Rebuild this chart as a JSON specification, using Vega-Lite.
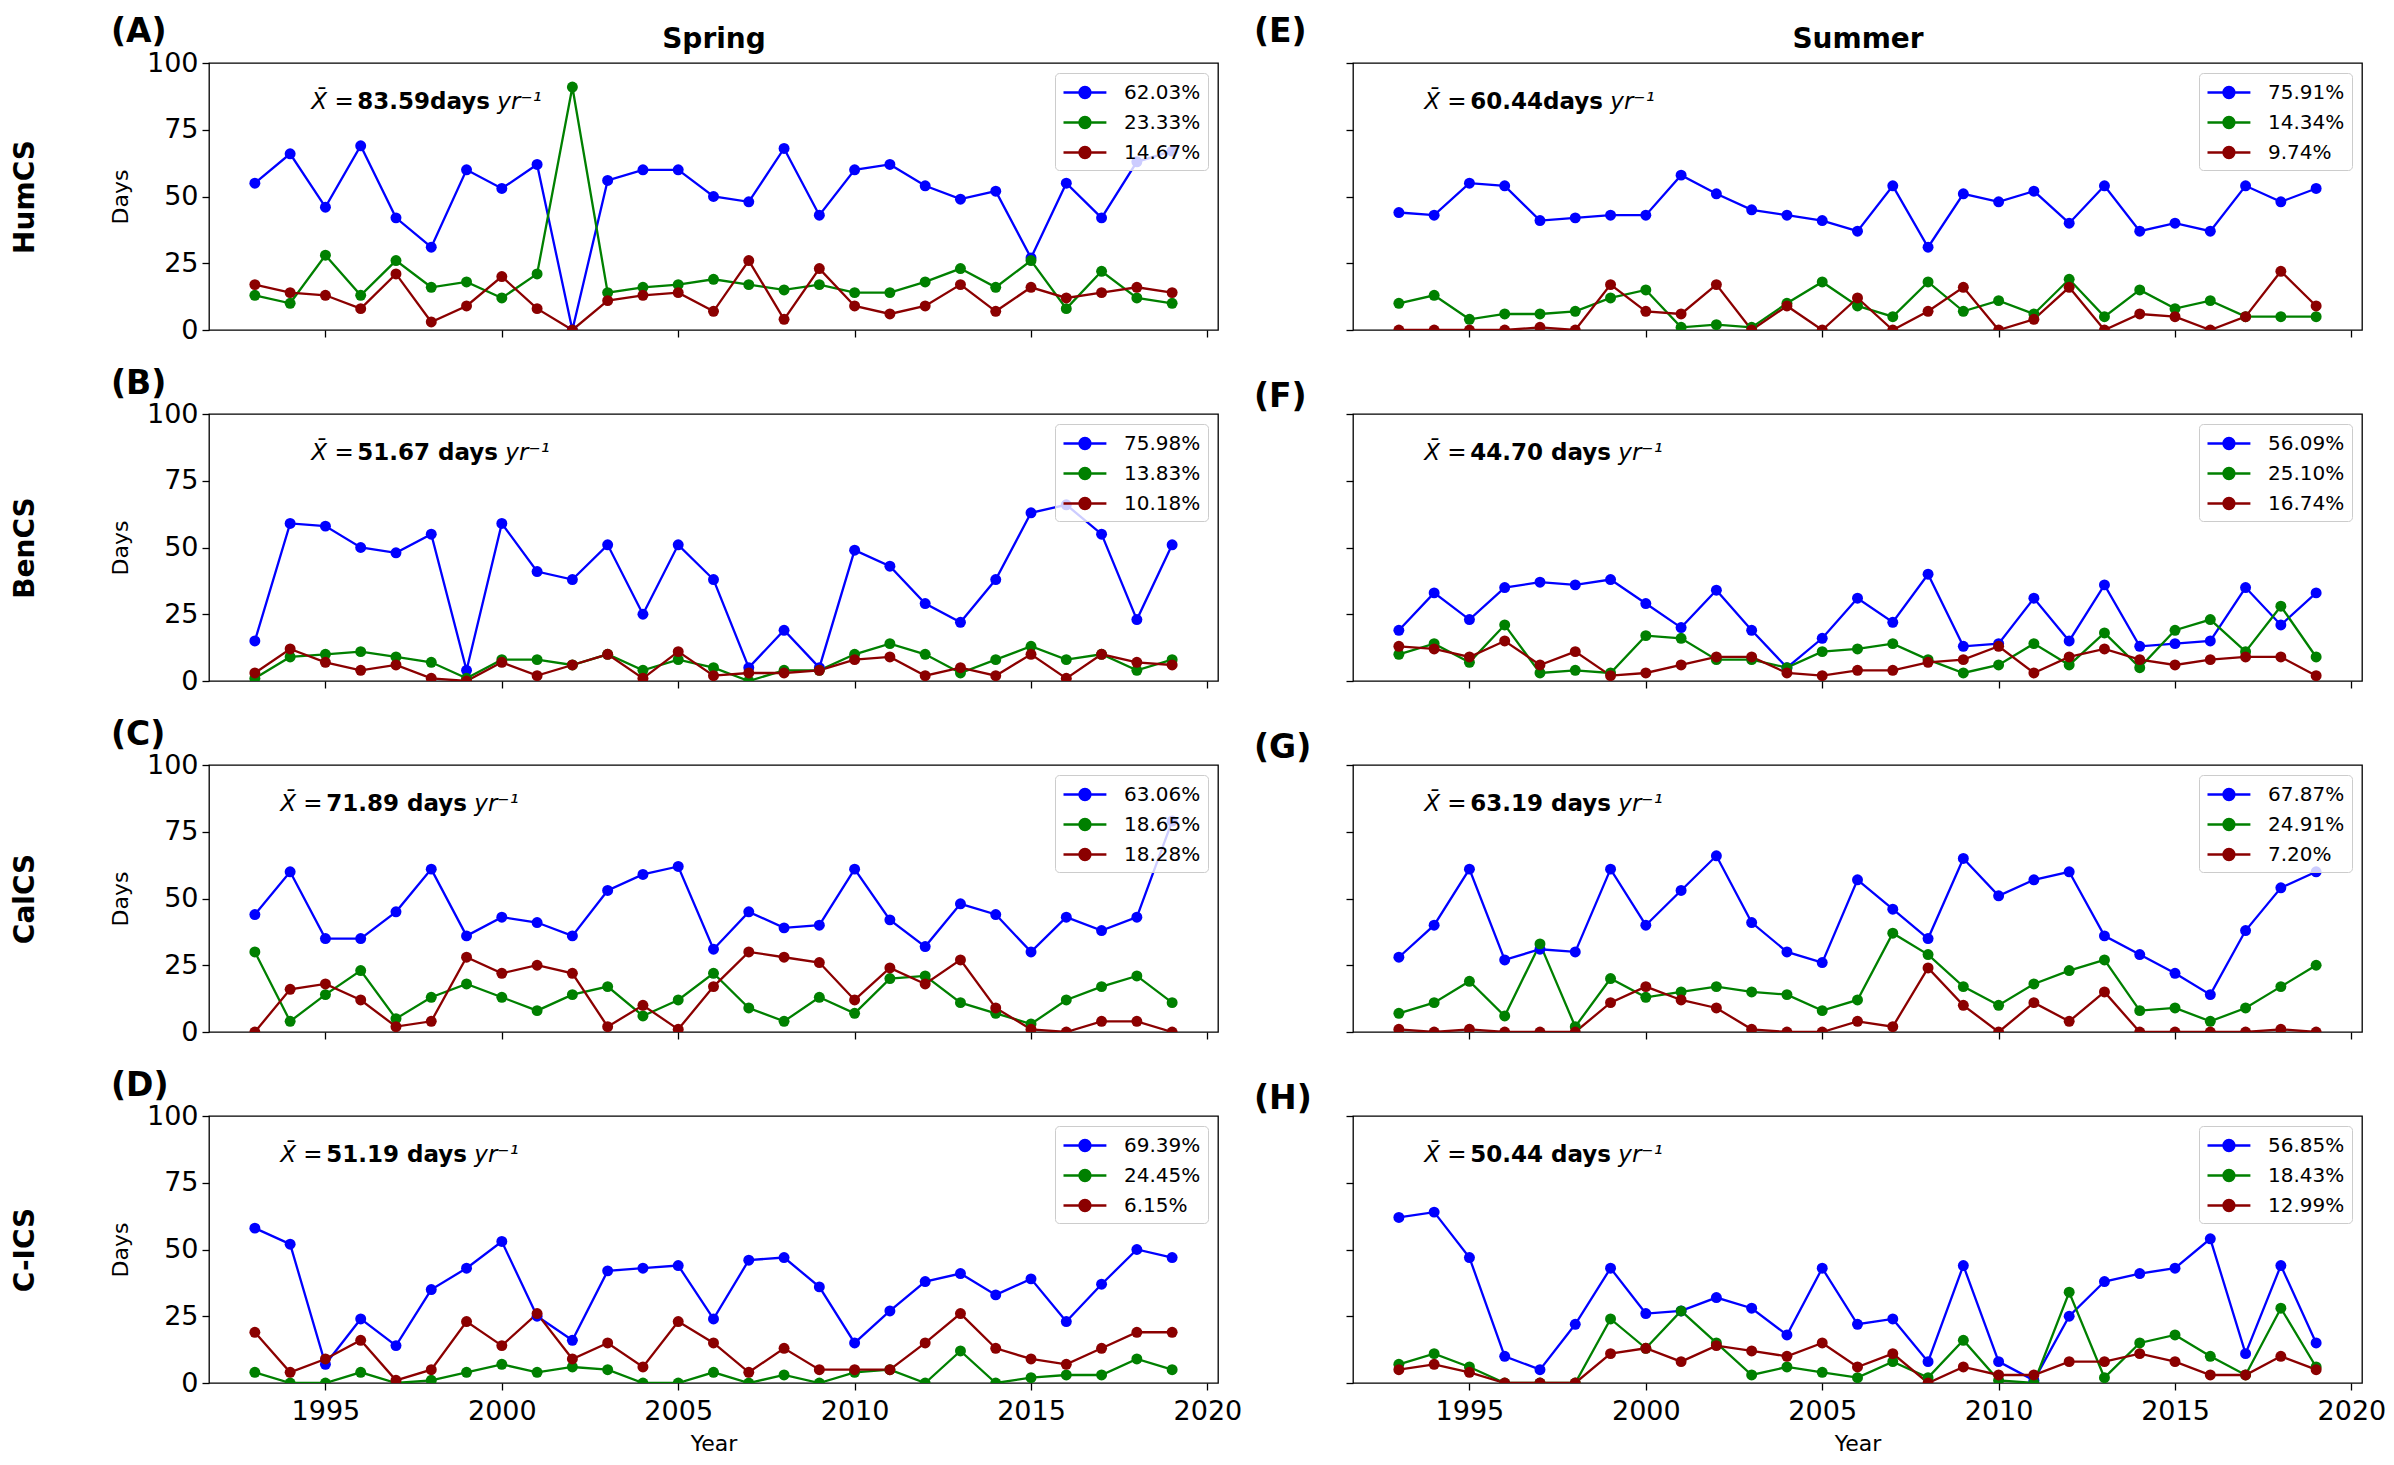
{
"$schema": "https://vega.github.io/schema/vega-lite/v6.json",
"padding": {"left": 10, "top": 15, "right": 5, "bottom": 5},
"config": {
  "font": "DejaVu Sans",
  "view": {"stroke": "#000000", "strokeWidth": 1.3},
  "axis": {"domain": false, "grid": false, "tickColor": "#000000", "tickSize": 7, "tickWidth": 1.3, "labelFontSize": 27, "labelColor": "#000000", "labelPadding": 4, "titleFontSize": 22, "titleFontWeight": "normal", "titleColor": "#000000"},
  "axisX": {"labelPadding": 8},
  "legend": {"orient": "top-right", "offset": 10, "padding": 7, "fillColor": "rgba(255,255,255,0.8)", "strokeColor": "#cccccc", "cornerRadius": 4, "labelFontSize": 20, "labelColor": "#000000", "symbolType": "M-1,0L2.9,0M0.45,0A0.5,0.5,0,1,1,1.45,0A0.5,0.5,0,1,1,0.45,0Z", "symbolSize": 484, "symbolStrokeWidth": 2.3, "symbolOpacity": 1, "labelOffset": 37, "rowPadding": 7},
  "title": {"color": "#000000"}
},
"datasets": {
"notes": [{"p":"A","m":"83.59days"},{"p":"B","m":"51.67 days"},{"p":"C","m":"71.89 days"},{"p":"D","m":"51.19 days"},{"p":"E","m":"60.44days"},{"p":"F","m":"44.70 days"},{"p":"G","m":"63.19 days"},{"p":"H","m":"50.44 days"}],
"d": [
{"p":"A","s":"62.03%","x":1993,"v":55},{"p":"A","s":"62.03%","x":1994,"v":66},{"p":"A","s":"62.03%","x":1995,"v":46},{"p":"A","s":"62.03%","x":1996,"v":69},{"p":"A","s":"62.03%","x":1997,"v":42},{"p":"A","s":"62.03%","x":1998,"v":31},{"p":"A","s":"62.03%","x":1999,"v":60},{"p":"A","s":"62.03%","x":2000,"v":53},{"p":"A","s":"62.03%","x":2001,"v":62},{"p":"A","s":"62.03%","x":2002,"v":0},{"p":"A","s":"62.03%","x":2003,"v":56},{"p":"A","s":"62.03%","x":2004,"v":60},{"p":"A","s":"62.03%","x":2005,"v":60},{"p":"A","s":"62.03%","x":2006,"v":50},{"p":"A","s":"62.03%","x":2007,"v":48},{"p":"A","s":"62.03%","x":2008,"v":68},{"p":"A","s":"62.03%","x":2009,"v":43},{"p":"A","s":"62.03%","x":2010,"v":60},{"p":"A","s":"62.03%","x":2011,"v":62},{"p":"A","s":"62.03%","x":2012,"v":54},{"p":"A","s":"62.03%","x":2013,"v":49},{"p":"A","s":"62.03%","x":2014,"v":52},{"p":"A","s":"62.03%","x":2015,"v":27},{"p":"A","s":"62.03%","x":2016,"v":55},{"p":"A","s":"62.03%","x":2017,"v":42},{"p":"A","s":"62.03%","x":2018,"v":63},{"p":"A","s":"62.03%","x":2019,"v":67},
{"p":"A","s":"23.33%","x":1993,"v":13},{"p":"A","s":"23.33%","x":1994,"v":10},{"p":"A","s":"23.33%","x":1995,"v":28},{"p":"A","s":"23.33%","x":1996,"v":13},{"p":"A","s":"23.33%","x":1997,"v":26},{"p":"A","s":"23.33%","x":1998,"v":16},{"p":"A","s":"23.33%","x":1999,"v":18},{"p":"A","s":"23.33%","x":2000,"v":12},{"p":"A","s":"23.33%","x":2001,"v":21},{"p":"A","s":"23.33%","x":2002,"v":91},{"p":"A","s":"23.33%","x":2003,"v":14},{"p":"A","s":"23.33%","x":2004,"v":16},{"p":"A","s":"23.33%","x":2005,"v":17},{"p":"A","s":"23.33%","x":2006,"v":19},{"p":"A","s":"23.33%","x":2007,"v":17},{"p":"A","s":"23.33%","x":2008,"v":15},{"p":"A","s":"23.33%","x":2009,"v":17},{"p":"A","s":"23.33%","x":2010,"v":14},{"p":"A","s":"23.33%","x":2011,"v":14},{"p":"A","s":"23.33%","x":2012,"v":18},{"p":"A","s":"23.33%","x":2013,"v":23},{"p":"A","s":"23.33%","x":2014,"v":16},{"p":"A","s":"23.33%","x":2015,"v":26},{"p":"A","s":"23.33%","x":2016,"v":8},{"p":"A","s":"23.33%","x":2017,"v":22},{"p":"A","s":"23.33%","x":2018,"v":12},{"p":"A","s":"23.33%","x":2019,"v":10},
{"p":"A","s":"14.67%","x":1993,"v":17},{"p":"A","s":"14.67%","x":1994,"v":14},{"p":"A","s":"14.67%","x":1995,"v":13},{"p":"A","s":"14.67%","x":1996,"v":8},{"p":"A","s":"14.67%","x":1997,"v":21},{"p":"A","s":"14.67%","x":1998,"v":3},{"p":"A","s":"14.67%","x":1999,"v":9},{"p":"A","s":"14.67%","x":2000,"v":20},{"p":"A","s":"14.67%","x":2001,"v":8},{"p":"A","s":"14.67%","x":2002,"v":0},{"p":"A","s":"14.67%","x":2003,"v":11},{"p":"A","s":"14.67%","x":2004,"v":13},{"p":"A","s":"14.67%","x":2005,"v":14},{"p":"A","s":"14.67%","x":2006,"v":7},{"p":"A","s":"14.67%","x":2007,"v":26},{"p":"A","s":"14.67%","x":2008,"v":4},{"p":"A","s":"14.67%","x":2009,"v":23},{"p":"A","s":"14.67%","x":2010,"v":9},{"p":"A","s":"14.67%","x":2011,"v":6},{"p":"A","s":"14.67%","x":2012,"v":9},{"p":"A","s":"14.67%","x":2013,"v":17},{"p":"A","s":"14.67%","x":2014,"v":7},{"p":"A","s":"14.67%","x":2015,"v":16},{"p":"A","s":"14.67%","x":2016,"v":12},{"p":"A","s":"14.67%","x":2017,"v":14},{"p":"A","s":"14.67%","x":2018,"v":16},{"p":"A","s":"14.67%","x":2019,"v":14},
{"p":"B","s":"75.98%","x":1993,"v":15},{"p":"B","s":"75.98%","x":1994,"v":59},{"p":"B","s":"75.98%","x":1995,"v":58},{"p":"B","s":"75.98%","x":1996,"v":50},{"p":"B","s":"75.98%","x":1997,"v":48},{"p":"B","s":"75.98%","x":1998,"v":55},{"p":"B","s":"75.98%","x":1999,"v":4},{"p":"B","s":"75.98%","x":2000,"v":59},{"p":"B","s":"75.98%","x":2001,"v":41},{"p":"B","s":"75.98%","x":2002,"v":38},{"p":"B","s":"75.98%","x":2003,"v":51},{"p":"B","s":"75.98%","x":2004,"v":25},{"p":"B","s":"75.98%","x":2005,"v":51},{"p":"B","s":"75.98%","x":2006,"v":38},{"p":"B","s":"75.98%","x":2007,"v":5},{"p":"B","s":"75.98%","x":2008,"v":19},{"p":"B","s":"75.98%","x":2009,"v":5},{"p":"B","s":"75.98%","x":2010,"v":49},{"p":"B","s":"75.98%","x":2011,"v":43},{"p":"B","s":"75.98%","x":2012,"v":29},{"p":"B","s":"75.98%","x":2013,"v":22},{"p":"B","s":"75.98%","x":2014,"v":38},{"p":"B","s":"75.98%","x":2015,"v":63},{"p":"B","s":"75.98%","x":2016,"v":66},{"p":"B","s":"75.98%","x":2017,"v":55},{"p":"B","s":"75.98%","x":2018,"v":23},{"p":"B","s":"75.98%","x":2019,"v":51},
{"p":"B","s":"13.83%","x":1993,"v":1},{"p":"B","s":"13.83%","x":1994,"v":9},{"p":"B","s":"13.83%","x":1995,"v":10},{"p":"B","s":"13.83%","x":1996,"v":11},{"p":"B","s":"13.83%","x":1997,"v":9},{"p":"B","s":"13.83%","x":1998,"v":7},{"p":"B","s":"13.83%","x":1999,"v":1},{"p":"B","s":"13.83%","x":2000,"v":8},{"p":"B","s":"13.83%","x":2001,"v":8},{"p":"B","s":"13.83%","x":2002,"v":6},{"p":"B","s":"13.83%","x":2003,"v":10},{"p":"B","s":"13.83%","x":2004,"v":4},{"p":"B","s":"13.83%","x":2005,"v":8},{"p":"B","s":"13.83%","x":2006,"v":5},{"p":"B","s":"13.83%","x":2007,"v":0},{"p":"B","s":"13.83%","x":2008,"v":4},{"p":"B","s":"13.83%","x":2009,"v":4},{"p":"B","s":"13.83%","x":2010,"v":10},{"p":"B","s":"13.83%","x":2011,"v":14},{"p":"B","s":"13.83%","x":2012,"v":10},{"p":"B","s":"13.83%","x":2013,"v":3},{"p":"B","s":"13.83%","x":2014,"v":8},{"p":"B","s":"13.83%","x":2015,"v":13},{"p":"B","s":"13.83%","x":2016,"v":8},{"p":"B","s":"13.83%","x":2017,"v":10},{"p":"B","s":"13.83%","x":2018,"v":4},{"p":"B","s":"13.83%","x":2019,"v":8},
{"p":"B","s":"10.18%","x":1993,"v":3},{"p":"B","s":"10.18%","x":1994,"v":12},{"p":"B","s":"10.18%","x":1995,"v":7},{"p":"B","s":"10.18%","x":1996,"v":4},{"p":"B","s":"10.18%","x":1997,"v":6},{"p":"B","s":"10.18%","x":1998,"v":1},{"p":"B","s":"10.18%","x":1999,"v":0},{"p":"B","s":"10.18%","x":2000,"v":7},{"p":"B","s":"10.18%","x":2001,"v":2},{"p":"B","s":"10.18%","x":2002,"v":6},{"p":"B","s":"10.18%","x":2003,"v":10},{"p":"B","s":"10.18%","x":2004,"v":1},{"p":"B","s":"10.18%","x":2005,"v":11},{"p":"B","s":"10.18%","x":2006,"v":2},{"p":"B","s":"10.18%","x":2007,"v":3},{"p":"B","s":"10.18%","x":2008,"v":3},{"p":"B","s":"10.18%","x":2009,"v":4},{"p":"B","s":"10.18%","x":2010,"v":8},{"p":"B","s":"10.18%","x":2011,"v":9},{"p":"B","s":"10.18%","x":2012,"v":2},{"p":"B","s":"10.18%","x":2013,"v":5},{"p":"B","s":"10.18%","x":2014,"v":2},{"p":"B","s":"10.18%","x":2015,"v":10},{"p":"B","s":"10.18%","x":2016,"v":1},{"p":"B","s":"10.18%","x":2017,"v":10},{"p":"B","s":"10.18%","x":2018,"v":7},{"p":"B","s":"10.18%","x":2019,"v":6},
{"p":"C","s":"63.06%","x":1993,"v":44},{"p":"C","s":"63.06%","x":1994,"v":60},{"p":"C","s":"63.06%","x":1995,"v":35},{"p":"C","s":"63.06%","x":1996,"v":35},{"p":"C","s":"63.06%","x":1997,"v":45},{"p":"C","s":"63.06%","x":1998,"v":61},{"p":"C","s":"63.06%","x":1999,"v":36},{"p":"C","s":"63.06%","x":2000,"v":43},{"p":"C","s":"63.06%","x":2001,"v":41},{"p":"C","s":"63.06%","x":2002,"v":36},{"p":"C","s":"63.06%","x":2003,"v":53},{"p":"C","s":"63.06%","x":2004,"v":59},{"p":"C","s":"63.06%","x":2005,"v":62},{"p":"C","s":"63.06%","x":2006,"v":31},{"p":"C","s":"63.06%","x":2007,"v":45},{"p":"C","s":"63.06%","x":2008,"v":39},{"p":"C","s":"63.06%","x":2009,"v":40},{"p":"C","s":"63.06%","x":2010,"v":61},{"p":"C","s":"63.06%","x":2011,"v":42},{"p":"C","s":"63.06%","x":2012,"v":32},{"p":"C","s":"63.06%","x":2013,"v":48},{"p":"C","s":"63.06%","x":2014,"v":44},{"p":"C","s":"63.06%","x":2015,"v":30},{"p":"C","s":"63.06%","x":2016,"v":43},{"p":"C","s":"63.06%","x":2017,"v":38},{"p":"C","s":"63.06%","x":2018,"v":43},{"p":"C","s":"63.06%","x":2019,"v":79},
{"p":"C","s":"18.65%","x":1993,"v":30},{"p":"C","s":"18.65%","x":1994,"v":4},{"p":"C","s":"18.65%","x":1995,"v":14},{"p":"C","s":"18.65%","x":1996,"v":23},{"p":"C","s":"18.65%","x":1997,"v":5},{"p":"C","s":"18.65%","x":1998,"v":13},{"p":"C","s":"18.65%","x":1999,"v":18},{"p":"C","s":"18.65%","x":2000,"v":13},{"p":"C","s":"18.65%","x":2001,"v":8},{"p":"C","s":"18.65%","x":2002,"v":14},{"p":"C","s":"18.65%","x":2003,"v":17},{"p":"C","s":"18.65%","x":2004,"v":6},{"p":"C","s":"18.65%","x":2005,"v":12},{"p":"C","s":"18.65%","x":2006,"v":22},{"p":"C","s":"18.65%","x":2007,"v":9},{"p":"C","s":"18.65%","x":2008,"v":4},{"p":"C","s":"18.65%","x":2009,"v":13},{"p":"C","s":"18.65%","x":2010,"v":7},{"p":"C","s":"18.65%","x":2011,"v":20},{"p":"C","s":"18.65%","x":2012,"v":21},{"p":"C","s":"18.65%","x":2013,"v":11},{"p":"C","s":"18.65%","x":2014,"v":7},{"p":"C","s":"18.65%","x":2015,"v":3},{"p":"C","s":"18.65%","x":2016,"v":12},{"p":"C","s":"18.65%","x":2017,"v":17},{"p":"C","s":"18.65%","x":2018,"v":21},{"p":"C","s":"18.65%","x":2019,"v":11},
{"p":"C","s":"18.28%","x":1993,"v":0},{"p":"C","s":"18.28%","x":1994,"v":16},{"p":"C","s":"18.28%","x":1995,"v":18},{"p":"C","s":"18.28%","x":1996,"v":12},{"p":"C","s":"18.28%","x":1997,"v":2},{"p":"C","s":"18.28%","x":1998,"v":4},{"p":"C","s":"18.28%","x":1999,"v":28},{"p":"C","s":"18.28%","x":2000,"v":22},{"p":"C","s":"18.28%","x":2001,"v":25},{"p":"C","s":"18.28%","x":2002,"v":22},{"p":"C","s":"18.28%","x":2003,"v":2},{"p":"C","s":"18.28%","x":2004,"v":10},{"p":"C","s":"18.28%","x":2005,"v":1},{"p":"C","s":"18.28%","x":2006,"v":17},{"p":"C","s":"18.28%","x":2007,"v":30},{"p":"C","s":"18.28%","x":2008,"v":28},{"p":"C","s":"18.28%","x":2009,"v":26},{"p":"C","s":"18.28%","x":2010,"v":12},{"p":"C","s":"18.28%","x":2011,"v":24},{"p":"C","s":"18.28%","x":2012,"v":18},{"p":"C","s":"18.28%","x":2013,"v":27},{"p":"C","s":"18.28%","x":2014,"v":9},{"p":"C","s":"18.28%","x":2015,"v":1},{"p":"C","s":"18.28%","x":2016,"v":0},{"p":"C","s":"18.28%","x":2017,"v":4},{"p":"C","s":"18.28%","x":2018,"v":4},{"p":"C","s":"18.28%","x":2019,"v":0},
{"p":"D","s":"69.39%","x":1993,"v":58},{"p":"D","s":"69.39%","x":1994,"v":52},{"p":"D","s":"69.39%","x":1995,"v":7},{"p":"D","s":"69.39%","x":1996,"v":24},{"p":"D","s":"69.39%","x":1997,"v":14},{"p":"D","s":"69.39%","x":1998,"v":35},{"p":"D","s":"69.39%","x":1999,"v":43},{"p":"D","s":"69.39%","x":2000,"v":53},{"p":"D","s":"69.39%","x":2001,"v":25},{"p":"D","s":"69.39%","x":2002,"v":16},{"p":"D","s":"69.39%","x":2003,"v":42},{"p":"D","s":"69.39%","x":2004,"v":43},{"p":"D","s":"69.39%","x":2005,"v":44},{"p":"D","s":"69.39%","x":2006,"v":24},{"p":"D","s":"69.39%","x":2007,"v":46},{"p":"D","s":"69.39%","x":2008,"v":47},{"p":"D","s":"69.39%","x":2009,"v":36},{"p":"D","s":"69.39%","x":2010,"v":15},{"p":"D","s":"69.39%","x":2011,"v":27},{"p":"D","s":"69.39%","x":2012,"v":38},{"p":"D","s":"69.39%","x":2013,"v":41},{"p":"D","s":"69.39%","x":2014,"v":33},{"p":"D","s":"69.39%","x":2015,"v":39},{"p":"D","s":"69.39%","x":2016,"v":23},{"p":"D","s":"69.39%","x":2017,"v":37},{"p":"D","s":"69.39%","x":2018,"v":50},{"p":"D","s":"69.39%","x":2019,"v":47},
{"p":"D","s":"24.45%","x":1993,"v":4},{"p":"D","s":"24.45%","x":1994,"v":0},{"p":"D","s":"24.45%","x":1995,"v":0},{"p":"D","s":"24.45%","x":1996,"v":4},{"p":"D","s":"24.45%","x":1997,"v":0},{"p":"D","s":"24.45%","x":1998,"v":1},{"p":"D","s":"24.45%","x":1999,"v":4},{"p":"D","s":"24.45%","x":2000,"v":7},{"p":"D","s":"24.45%","x":2001,"v":4},{"p":"D","s":"24.45%","x":2002,"v":6},{"p":"D","s":"24.45%","x":2003,"v":5},{"p":"D","s":"24.45%","x":2004,"v":0},{"p":"D","s":"24.45%","x":2005,"v":0},{"p":"D","s":"24.45%","x":2006,"v":4},{"p":"D","s":"24.45%","x":2007,"v":0},{"p":"D","s":"24.45%","x":2008,"v":3},{"p":"D","s":"24.45%","x":2009,"v":0},{"p":"D","s":"24.45%","x":2010,"v":4},{"p":"D","s":"24.45%","x":2011,"v":5},{"p":"D","s":"24.45%","x":2012,"v":0},{"p":"D","s":"24.45%","x":2013,"v":12},{"p":"D","s":"24.45%","x":2014,"v":0},{"p":"D","s":"24.45%","x":2015,"v":2},{"p":"D","s":"24.45%","x":2016,"v":3},{"p":"D","s":"24.45%","x":2017,"v":3},{"p":"D","s":"24.45%","x":2018,"v":9},{"p":"D","s":"24.45%","x":2019,"v":5},
{"p":"D","s":"6.15%","x":1993,"v":19},{"p":"D","s":"6.15%","x":1994,"v":4},{"p":"D","s":"6.15%","x":1995,"v":9},{"p":"D","s":"6.15%","x":1996,"v":16},{"p":"D","s":"6.15%","x":1997,"v":1},{"p":"D","s":"6.15%","x":1998,"v":5},{"p":"D","s":"6.15%","x":1999,"v":23},{"p":"D","s":"6.15%","x":2000,"v":14},{"p":"D","s":"6.15%","x":2001,"v":26},{"p":"D","s":"6.15%","x":2002,"v":9},{"p":"D","s":"6.15%","x":2003,"v":15},{"p":"D","s":"6.15%","x":2004,"v":6},{"p":"D","s":"6.15%","x":2005,"v":23},{"p":"D","s":"6.15%","x":2006,"v":15},{"p":"D","s":"6.15%","x":2007,"v":4},{"p":"D","s":"6.15%","x":2008,"v":13},{"p":"D","s":"6.15%","x":2009,"v":5},{"p":"D","s":"6.15%","x":2010,"v":5},{"p":"D","s":"6.15%","x":2011,"v":5},{"p":"D","s":"6.15%","x":2012,"v":15},{"p":"D","s":"6.15%","x":2013,"v":26},{"p":"D","s":"6.15%","x":2014,"v":13},{"p":"D","s":"6.15%","x":2015,"v":9},{"p":"D","s":"6.15%","x":2016,"v":7},{"p":"D","s":"6.15%","x":2017,"v":13},{"p":"D","s":"6.15%","x":2018,"v":19},{"p":"D","s":"6.15%","x":2019,"v":19},
{"p":"E","s":"75.91%","x":1993,"v":44},{"p":"E","s":"75.91%","x":1994,"v":43},{"p":"E","s":"75.91%","x":1995,"v":55},{"p":"E","s":"75.91%","x":1996,"v":54},{"p":"E","s":"75.91%","x":1997,"v":41},{"p":"E","s":"75.91%","x":1998,"v":42},{"p":"E","s":"75.91%","x":1999,"v":43},{"p":"E","s":"75.91%","x":2000,"v":43},{"p":"E","s":"75.91%","x":2001,"v":58},{"p":"E","s":"75.91%","x":2002,"v":51},{"p":"E","s":"75.91%","x":2003,"v":45},{"p":"E","s":"75.91%","x":2004,"v":43},{"p":"E","s":"75.91%","x":2005,"v":41},{"p":"E","s":"75.91%","x":2006,"v":37},{"p":"E","s":"75.91%","x":2007,"v":54},{"p":"E","s":"75.91%","x":2008,"v":31},{"p":"E","s":"75.91%","x":2009,"v":51},{"p":"E","s":"75.91%","x":2010,"v":48},{"p":"E","s":"75.91%","x":2011,"v":52},{"p":"E","s":"75.91%","x":2012,"v":40},{"p":"E","s":"75.91%","x":2013,"v":54},{"p":"E","s":"75.91%","x":2014,"v":37},{"p":"E","s":"75.91%","x":2015,"v":40},{"p":"E","s":"75.91%","x":2016,"v":37},{"p":"E","s":"75.91%","x":2017,"v":54},{"p":"E","s":"75.91%","x":2018,"v":48},{"p":"E","s":"75.91%","x":2019,"v":53},
{"p":"E","s":"14.34%","x":1993,"v":10},{"p":"E","s":"14.34%","x":1994,"v":13},{"p":"E","s":"14.34%","x":1995,"v":4},{"p":"E","s":"14.34%","x":1996,"v":6},{"p":"E","s":"14.34%","x":1997,"v":6},{"p":"E","s":"14.34%","x":1998,"v":7},{"p":"E","s":"14.34%","x":1999,"v":12},{"p":"E","s":"14.34%","x":2000,"v":15},{"p":"E","s":"14.34%","x":2001,"v":1},{"p":"E","s":"14.34%","x":2002,"v":2},{"p":"E","s":"14.34%","x":2003,"v":1},{"p":"E","s":"14.34%","x":2004,"v":10},{"p":"E","s":"14.34%","x":2005,"v":18},{"p":"E","s":"14.34%","x":2006,"v":9},{"p":"E","s":"14.34%","x":2007,"v":5},{"p":"E","s":"14.34%","x":2008,"v":18},{"p":"E","s":"14.34%","x":2009,"v":7},{"p":"E","s":"14.34%","x":2010,"v":11},{"p":"E","s":"14.34%","x":2011,"v":6},{"p":"E","s":"14.34%","x":2012,"v":19},{"p":"E","s":"14.34%","x":2013,"v":5},{"p":"E","s":"14.34%","x":2014,"v":15},{"p":"E","s":"14.34%","x":2015,"v":8},{"p":"E","s":"14.34%","x":2016,"v":11},{"p":"E","s":"14.34%","x":2017,"v":5},{"p":"E","s":"14.34%","x":2018,"v":5},{"p":"E","s":"14.34%","x":2019,"v":5},
{"p":"E","s":"9.74%","x":1993,"v":0},{"p":"E","s":"9.74%","x":1994,"v":0},{"p":"E","s":"9.74%","x":1995,"v":0},{"p":"E","s":"9.74%","x":1996,"v":0},{"p":"E","s":"9.74%","x":1997,"v":1},{"p":"E","s":"9.74%","x":1998,"v":0},{"p":"E","s":"9.74%","x":1999,"v":17},{"p":"E","s":"9.74%","x":2000,"v":7},{"p":"E","s":"9.74%","x":2001,"v":6},{"p":"E","s":"9.74%","x":2002,"v":17},{"p":"E","s":"9.74%","x":2003,"v":0},{"p":"E","s":"9.74%","x":2004,"v":9},{"p":"E","s":"9.74%","x":2005,"v":0},{"p":"E","s":"9.74%","x":2006,"v":12},{"p":"E","s":"9.74%","x":2007,"v":0},{"p":"E","s":"9.74%","x":2008,"v":7},{"p":"E","s":"9.74%","x":2009,"v":16},{"p":"E","s":"9.74%","x":2010,"v":0},{"p":"E","s":"9.74%","x":2011,"v":4},{"p":"E","s":"9.74%","x":2012,"v":16},{"p":"E","s":"9.74%","x":2013,"v":0},{"p":"E","s":"9.74%","x":2014,"v":6},{"p":"E","s":"9.74%","x":2015,"v":5},{"p":"E","s":"9.74%","x":2016,"v":0},{"p":"E","s":"9.74%","x":2017,"v":5},{"p":"E","s":"9.74%","x":2018,"v":22},{"p":"E","s":"9.74%","x":2019,"v":9},
{"p":"F","s":"56.09%","x":1993,"v":19},{"p":"F","s":"56.09%","x":1994,"v":33},{"p":"F","s":"56.09%","x":1995,"v":23},{"p":"F","s":"56.09%","x":1996,"v":35},{"p":"F","s":"56.09%","x":1997,"v":37},{"p":"F","s":"56.09%","x":1998,"v":36},{"p":"F","s":"56.09%","x":1999,"v":38},{"p":"F","s":"56.09%","x":2000,"v":29},{"p":"F","s":"56.09%","x":2001,"v":20},{"p":"F","s":"56.09%","x":2002,"v":34},{"p":"F","s":"56.09%","x":2003,"v":19},{"p":"F","s":"56.09%","x":2004,"v":5},{"p":"F","s":"56.09%","x":2005,"v":16},{"p":"F","s":"56.09%","x":2006,"v":31},{"p":"F","s":"56.09%","x":2007,"v":22},{"p":"F","s":"56.09%","x":2008,"v":40},{"p":"F","s":"56.09%","x":2009,"v":13},{"p":"F","s":"56.09%","x":2010,"v":14},{"p":"F","s":"56.09%","x":2011,"v":31},{"p":"F","s":"56.09%","x":2012,"v":15},{"p":"F","s":"56.09%","x":2013,"v":36},{"p":"F","s":"56.09%","x":2014,"v":13},{"p":"F","s":"56.09%","x":2015,"v":14},{"p":"F","s":"56.09%","x":2016,"v":15},{"p":"F","s":"56.09%","x":2017,"v":35},{"p":"F","s":"56.09%","x":2018,"v":21},{"p":"F","s":"56.09%","x":2019,"v":33},
{"p":"F","s":"25.10%","x":1993,"v":10},{"p":"F","s":"25.10%","x":1994,"v":14},{"p":"F","s":"25.10%","x":1995,"v":7},{"p":"F","s":"25.10%","x":1996,"v":21},{"p":"F","s":"25.10%","x":1997,"v":3},{"p":"F","s":"25.10%","x":1998,"v":4},{"p":"F","s":"25.10%","x":1999,"v":3},{"p":"F","s":"25.10%","x":2000,"v":17},{"p":"F","s":"25.10%","x":2001,"v":16},{"p":"F","s":"25.10%","x":2002,"v":8},{"p":"F","s":"25.10%","x":2003,"v":8},{"p":"F","s":"25.10%","x":2004,"v":5},{"p":"F","s":"25.10%","x":2005,"v":11},{"p":"F","s":"25.10%","x":2006,"v":12},{"p":"F","s":"25.10%","x":2007,"v":14},{"p":"F","s":"25.10%","x":2008,"v":8},{"p":"F","s":"25.10%","x":2009,"v":3},{"p":"F","s":"25.10%","x":2010,"v":6},{"p":"F","s":"25.10%","x":2011,"v":14},{"p":"F","s":"25.10%","x":2012,"v":6},{"p":"F","s":"25.10%","x":2013,"v":18},{"p":"F","s":"25.10%","x":2014,"v":5},{"p":"F","s":"25.10%","x":2015,"v":19},{"p":"F","s":"25.10%","x":2016,"v":23},{"p":"F","s":"25.10%","x":2017,"v":11},{"p":"F","s":"25.10%","x":2018,"v":28},{"p":"F","s":"25.10%","x":2019,"v":9},
{"p":"F","s":"16.74%","x":1993,"v":13},{"p":"F","s":"16.74%","x":1994,"v":12},{"p":"F","s":"16.74%","x":1995,"v":9},{"p":"F","s":"16.74%","x":1996,"v":15},{"p":"F","s":"16.74%","x":1997,"v":6},{"p":"F","s":"16.74%","x":1998,"v":11},{"p":"F","s":"16.74%","x":1999,"v":2},{"p":"F","s":"16.74%","x":2000,"v":3},{"p":"F","s":"16.74%","x":2001,"v":6},{"p":"F","s":"16.74%","x":2002,"v":9},{"p":"F","s":"16.74%","x":2003,"v":9},{"p":"F","s":"16.74%","x":2004,"v":3},{"p":"F","s":"16.74%","x":2005,"v":2},{"p":"F","s":"16.74%","x":2006,"v":4},{"p":"F","s":"16.74%","x":2007,"v":4},{"p":"F","s":"16.74%","x":2008,"v":7},{"p":"F","s":"16.74%","x":2009,"v":8},{"p":"F","s":"16.74%","x":2010,"v":13},{"p":"F","s":"16.74%","x":2011,"v":3},{"p":"F","s":"16.74%","x":2012,"v":9},{"p":"F","s":"16.74%","x":2013,"v":12},{"p":"F","s":"16.74%","x":2014,"v":8},{"p":"F","s":"16.74%","x":2015,"v":6},{"p":"F","s":"16.74%","x":2016,"v":8},{"p":"F","s":"16.74%","x":2017,"v":9},{"p":"F","s":"16.74%","x":2018,"v":9},{"p":"F","s":"16.74%","x":2019,"v":2},
{"p":"G","s":"67.87%","x":1993,"v":28},{"p":"G","s":"67.87%","x":1994,"v":40},{"p":"G","s":"67.87%","x":1995,"v":61},{"p":"G","s":"67.87%","x":1996,"v":27},{"p":"G","s":"67.87%","x":1997,"v":31},{"p":"G","s":"67.87%","x":1998,"v":30},{"p":"G","s":"67.87%","x":1999,"v":61},{"p":"G","s":"67.87%","x":2000,"v":40},{"p":"G","s":"67.87%","x":2001,"v":53},{"p":"G","s":"67.87%","x":2002,"v":66},{"p":"G","s":"67.87%","x":2003,"v":41},{"p":"G","s":"67.87%","x":2004,"v":30},{"p":"G","s":"67.87%","x":2005,"v":26},{"p":"G","s":"67.87%","x":2006,"v":57},{"p":"G","s":"67.87%","x":2007,"v":46},{"p":"G","s":"67.87%","x":2008,"v":35},{"p":"G","s":"67.87%","x":2009,"v":65},{"p":"G","s":"67.87%","x":2010,"v":51},{"p":"G","s":"67.87%","x":2011,"v":57},{"p":"G","s":"67.87%","x":2012,"v":60},{"p":"G","s":"67.87%","x":2013,"v":36},{"p":"G","s":"67.87%","x":2014,"v":29},{"p":"G","s":"67.87%","x":2015,"v":22},{"p":"G","s":"67.87%","x":2016,"v":14},{"p":"G","s":"67.87%","x":2017,"v":38},{"p":"G","s":"67.87%","x":2018,"v":54},{"p":"G","s":"67.87%","x":2019,"v":60},
{"p":"G","s":"24.91%","x":1993,"v":7},{"p":"G","s":"24.91%","x":1994,"v":11},{"p":"G","s":"24.91%","x":1995,"v":19},{"p":"G","s":"24.91%","x":1996,"v":6},{"p":"G","s":"24.91%","x":1997,"v":33},{"p":"G","s":"24.91%","x":1998,"v":2},{"p":"G","s":"24.91%","x":1999,"v":20},{"p":"G","s":"24.91%","x":2000,"v":13},{"p":"G","s":"24.91%","x":2001,"v":15},{"p":"G","s":"24.91%","x":2002,"v":17},{"p":"G","s":"24.91%","x":2003,"v":15},{"p":"G","s":"24.91%","x":2004,"v":14},{"p":"G","s":"24.91%","x":2005,"v":8},{"p":"G","s":"24.91%","x":2006,"v":12},{"p":"G","s":"24.91%","x":2007,"v":37},{"p":"G","s":"24.91%","x":2008,"v":29},{"p":"G","s":"24.91%","x":2009,"v":17},{"p":"G","s":"24.91%","x":2010,"v":10},{"p":"G","s":"24.91%","x":2011,"v":18},{"p":"G","s":"24.91%","x":2012,"v":23},{"p":"G","s":"24.91%","x":2013,"v":27},{"p":"G","s":"24.91%","x":2014,"v":8},{"p":"G","s":"24.91%","x":2015,"v":9},{"p":"G","s":"24.91%","x":2016,"v":4},{"p":"G","s":"24.91%","x":2017,"v":9},{"p":"G","s":"24.91%","x":2018,"v":17},{"p":"G","s":"24.91%","x":2019,"v":25},
{"p":"G","s":"7.20%","x":1993,"v":1},{"p":"G","s":"7.20%","x":1994,"v":0},{"p":"G","s":"7.20%","x":1995,"v":1},{"p":"G","s":"7.20%","x":1996,"v":0},{"p":"G","s":"7.20%","x":1997,"v":0},{"p":"G","s":"7.20%","x":1998,"v":0},{"p":"G","s":"7.20%","x":1999,"v":11},{"p":"G","s":"7.20%","x":2000,"v":17},{"p":"G","s":"7.20%","x":2001,"v":12},{"p":"G","s":"7.20%","x":2002,"v":9},{"p":"G","s":"7.20%","x":2003,"v":1},{"p":"G","s":"7.20%","x":2004,"v":0},{"p":"G","s":"7.20%","x":2005,"v":0},{"p":"G","s":"7.20%","x":2006,"v":4},{"p":"G","s":"7.20%","x":2007,"v":2},{"p":"G","s":"7.20%","x":2008,"v":24},{"p":"G","s":"7.20%","x":2009,"v":10},{"p":"G","s":"7.20%","x":2010,"v":0},{"p":"G","s":"7.20%","x":2011,"v":11},{"p":"G","s":"7.20%","x":2012,"v":4},{"p":"G","s":"7.20%","x":2013,"v":15},{"p":"G","s":"7.20%","x":2014,"v":0},{"p":"G","s":"7.20%","x":2015,"v":0},{"p":"G","s":"7.20%","x":2016,"v":0},{"p":"G","s":"7.20%","x":2017,"v":0},{"p":"G","s":"7.20%","x":2018,"v":1},{"p":"G","s":"7.20%","x":2019,"v":0},
{"p":"H","s":"56.85%","x":1993,"v":62},{"p":"H","s":"56.85%","x":1994,"v":64},{"p":"H","s":"56.85%","x":1995,"v":47},{"p":"H","s":"56.85%","x":1996,"v":10},{"p":"H","s":"56.85%","x":1997,"v":5},{"p":"H","s":"56.85%","x":1998,"v":22},{"p":"H","s":"56.85%","x":1999,"v":43},{"p":"H","s":"56.85%","x":2000,"v":26},{"p":"H","s":"56.85%","x":2001,"v":27},{"p":"H","s":"56.85%","x":2002,"v":32},{"p":"H","s":"56.85%","x":2003,"v":28},{"p":"H","s":"56.85%","x":2004,"v":18},{"p":"H","s":"56.85%","x":2005,"v":43},{"p":"H","s":"56.85%","x":2006,"v":22},{"p":"H","s":"56.85%","x":2007,"v":24},{"p":"H","s":"56.85%","x":2008,"v":8},{"p":"H","s":"56.85%","x":2009,"v":44},{"p":"H","s":"56.85%","x":2010,"v":8},{"p":"H","s":"56.85%","x":2011,"v":1},{"p":"H","s":"56.85%","x":2012,"v":25},{"p":"H","s":"56.85%","x":2013,"v":38},{"p":"H","s":"56.85%","x":2014,"v":41},{"p":"H","s":"56.85%","x":2015,"v":43},{"p":"H","s":"56.85%","x":2016,"v":54},{"p":"H","s":"56.85%","x":2017,"v":11},{"p":"H","s":"56.85%","x":2018,"v":44},{"p":"H","s":"56.85%","x":2019,"v":15},
{"p":"H","s":"18.43%","x":1993,"v":7},{"p":"H","s":"18.43%","x":1994,"v":11},{"p":"H","s":"18.43%","x":1995,"v":6},{"p":"H","s":"18.43%","x":1996,"v":0},{"p":"H","s":"18.43%","x":1997,"v":0},{"p":"H","s":"18.43%","x":1998,"v":0},{"p":"H","s":"18.43%","x":1999,"v":24},{"p":"H","s":"18.43%","x":2000,"v":13},{"p":"H","s":"18.43%","x":2001,"v":27},{"p":"H","s":"18.43%","x":2002,"v":15},{"p":"H","s":"18.43%","x":2003,"v":3},{"p":"H","s":"18.43%","x":2004,"v":6},{"p":"H","s":"18.43%","x":2005,"v":4},{"p":"H","s":"18.43%","x":2006,"v":2},{"p":"H","s":"18.43%","x":2007,"v":8},{"p":"H","s":"18.43%","x":2008,"v":2},{"p":"H","s":"18.43%","x":2009,"v":16},{"p":"H","s":"18.43%","x":2010,"v":1},{"p":"H","s":"18.43%","x":2011,"v":0},{"p":"H","s":"18.43%","x":2012,"v":34},{"p":"H","s":"18.43%","x":2013,"v":2},{"p":"H","s":"18.43%","x":2014,"v":15},{"p":"H","s":"18.43%","x":2015,"v":18},{"p":"H","s":"18.43%","x":2016,"v":10},{"p":"H","s":"18.43%","x":2017,"v":3},{"p":"H","s":"18.43%","x":2018,"v":28},{"p":"H","s":"18.43%","x":2019,"v":6},
{"p":"H","s":"12.99%","x":1993,"v":5},{"p":"H","s":"12.99%","x":1994,"v":7},{"p":"H","s":"12.99%","x":1995,"v":4},{"p":"H","s":"12.99%","x":1996,"v":0},{"p":"H","s":"12.99%","x":1997,"v":0},{"p":"H","s":"12.99%","x":1998,"v":0},{"p":"H","s":"12.99%","x":1999,"v":11},{"p":"H","s":"12.99%","x":2000,"v":13},{"p":"H","s":"12.99%","x":2001,"v":8},{"p":"H","s":"12.99%","x":2002,"v":14},{"p":"H","s":"12.99%","x":2003,"v":12},{"p":"H","s":"12.99%","x":2004,"v":10},{"p":"H","s":"12.99%","x":2005,"v":15},{"p":"H","s":"12.99%","x":2006,"v":6},{"p":"H","s":"12.99%","x":2007,"v":11},{"p":"H","s":"12.99%","x":2008,"v":0},{"p":"H","s":"12.99%","x":2009,"v":6},{"p":"H","s":"12.99%","x":2010,"v":3},{"p":"H","s":"12.99%","x":2011,"v":3},{"p":"H","s":"12.99%","x":2012,"v":8},{"p":"H","s":"12.99%","x":2013,"v":8},{"p":"H","s":"12.99%","x":2014,"v":11},{"p":"H","s":"12.99%","x":2015,"v":8},{"p":"H","s":"12.99%","x":2016,"v":3},{"p":"H","s":"12.99%","x":2017,"v":3},{"p":"H","s":"12.99%","x":2018,"v":10},{"p":"H","s":"12.99%","x":2019,"v":5}
]
},
"columns": 2,
"bounds": "flush",
"spacing": {"row": 84, "column": 135},
"resolve": {"scale": {"color": "independent"}, "legend": {"color": "independent"}},
"concat": [
 {"width": 1009, "height": 267,
  "title": {"text": "(A)", "anchor": "start", "frame": "group", "dx": -98, "offset": -24, "fontSize": 33, "fontWeight": "bold"},
  "resolve": {"axis": {"x": "independent", "y": "independent"}},
  "layer": [
   {"data": {"name": "d"}, "transform": [{"filter": "datum.p == 'A'"}],
    "encoding": {
     "x": {"field": "x", "type": "quantitative", "scale": {"domain": [1991.7, 2020.3], "nice": false, "zero": false}, "axis": {"values": [1995,2000,2005,2010,2015,2020], "labels": false, "title": null}},
     "y": {"field": "v", "type": "quantitative", "scale": {"domain": [0, 100], "nice": false}, "axis": {"values": [0,25,50,75,100], "title": "Days", "titlePadding": 14}},
     "color": {"field": "s", "type": "nominal", "sort": null, "scale": {"range": ["#0000ff", "#008000", "#8b0000"]}, "legend": {"title": null}}
    },
    "layer": [
     {"mark": {"type": "line", "strokeWidth": 2.3, "clip": true}},
     {"mark": {"type": "point", "filled": true, "size": 120, "opacity": 1, "clip": true}}
    ]},
   {"data": {"name": "notes"}, "transform": [{"filter": "datum.p == 'A'"}],
    "encoding": {
     "x": {"datum": 1994.6, "type": "quantitative", "axis": {"orient": "top", "title": "Spring", "labels": false, "ticks": false, "domain": false, "titlePadding": 10, "titleFontSize": 28, "titleFontWeight": "bold"}},
     "y": {"datum": 85.5, "type": "quantitative", "axis": {"orient": "left", "title": "HumCS", "labels": false, "ticks": false, "domain": false, "offset": 160, "titlePadding": 10, "titleFontSize": 28, "titleFontWeight": "bold"}}
    },
    "layer": [
     {"mark": {"type": "text", "align": "left", "baseline": "middle", "fontSize": 23, "fontStyle": "italic", "text": "X̄ ="}},
     {"mark": {"type": "text", "align": "left", "baseline": "middle", "fontSize": 23, "fontWeight": "bold", "dx": 46}, "encoding": {"text": {"field": "m"}}},
     {"mark": {"type": "text", "align": "left", "baseline": "middle", "fontSize": 23, "fontStyle": "italic", "dx": 186, "text": "yr⁻¹"}}
    ]}
  ]},
 {"width": 1009, "height": 267,
  "title": {"text": "(E)", "anchor": "start", "frame": "group", "dx": -99, "offset": -24, "fontSize": 33, "fontWeight": "bold"},
  "resolve": {"axis": {"x": "independent"}},
  "layer": [
   {"data": {"name": "d"}, "transform": [{"filter": "datum.p == 'E'"}],
    "encoding": {
     "x": {"field": "x", "type": "quantitative", "scale": {"domain": [1991.7, 2020.3], "nice": false, "zero": false}, "axis": {"values": [1995,2000,2005,2010,2015,2020], "labels": false, "title": null}},
     "y": {"field": "v", "type": "quantitative", "scale": {"domain": [0, 100], "nice": false}, "axis": {"values": [0,25,50,75,100], "labels": false, "title": null}},
     "color": {"field": "s", "type": "nominal", "sort": null, "scale": {"range": ["#0000ff", "#008000", "#8b0000"]}, "legend": {"title": null}}
    },
    "layer": [
     {"mark": {"type": "line", "strokeWidth": 2.3, "clip": true}},
     {"mark": {"type": "point", "filled": true, "size": 120, "opacity": 1, "clip": true}}
    ]},
   {"data": {"name": "notes"}, "transform": [{"filter": "datum.p == 'E'"}],
    "encoding": {
     "x": {"datum": 1993.72, "type": "quantitative", "axis": {"orient": "top", "title": "Summer", "labels": false, "ticks": false, "domain": false, "titlePadding": 10, "titleFontSize": 28, "titleFontWeight": "bold"}},
     "y": {"datum": 85.5, "type": "quantitative"}
    },
    "layer": [
     {"mark": {"type": "text", "align": "left", "baseline": "middle", "fontSize": 23, "fontStyle": "italic", "text": "X̄ ="}},
     {"mark": {"type": "text", "align": "left", "baseline": "middle", "fontSize": 23, "fontWeight": "bold", "dx": 46}, "encoding": {"text": {"field": "m"}}},
     {"mark": {"type": "text", "align": "left", "baseline": "middle", "fontSize": 23, "fontStyle": "italic", "dx": 186, "text": "yr⁻¹"}}
    ]}
  ]},
 {"width": 1009, "height": 267,
  "title": {"text": "(B)", "anchor": "start", "frame": "group", "dx": -98, "offset": -1, "fontSize": 33, "fontWeight": "bold"},
  "resolve": {"axis": {"y": "independent"}},
  "layer": [
   {"data": {"name": "d"}, "transform": [{"filter": "datum.p == 'B'"}],
    "encoding": {
     "x": {"field": "x", "type": "quantitative", "scale": {"domain": [1991.7, 2020.3], "nice": false, "zero": false}, "axis": {"values": [1995,2000,2005,2010,2015,2020], "labels": false, "title": null}},
     "y": {"field": "v", "type": "quantitative", "scale": {"domain": [0, 100], "nice": false}, "axis": {"values": [0,25,50,75,100], "title": "Days", "titlePadding": 14}},
     "color": {"field": "s", "type": "nominal", "sort": null, "scale": {"range": ["#0000ff", "#008000", "#8b0000"]}, "legend": {"title": null}}
    },
    "layer": [
     {"mark": {"type": "line", "strokeWidth": 2.3, "clip": true}},
     {"mark": {"type": "point", "filled": true, "size": 120, "opacity": 1, "clip": true}}
    ]},
   {"data": {"name": "notes"}, "transform": [{"filter": "datum.p == 'B'"}],
    "encoding": {
     "x": {"datum": 1994.6, "type": "quantitative"},
     "y": {"datum": 85.5, "type": "quantitative", "axis": {"orient": "left", "title": "BenCS", "labels": false, "ticks": false, "domain": false, "offset": 160, "titlePadding": 10, "titleFontSize": 28, "titleFontWeight": "bold"}}
    },
    "layer": [
     {"mark": {"type": "text", "align": "left", "baseline": "middle", "fontSize": 23, "fontStyle": "italic", "text": "X̄ ="}},
     {"mark": {"type": "text", "align": "left", "baseline": "middle", "fontSize": 23, "fontWeight": "bold", "dx": 46}, "encoding": {"text": {"field": "m"}}},
     {"mark": {"type": "text", "align": "left", "baseline": "middle", "fontSize": 23, "fontStyle": "italic", "dx": 194, "text": "yr⁻¹"}}
    ]}
  ]},
 {"width": 1009, "height": 267,
  "title": {"text": "(F)", "anchor": "start", "frame": "group", "dx": -99, "offset": -1, "fontSize": 33, "fontWeight": "bold"},
  "layer": [
   {"data": {"name": "d"}, "transform": [{"filter": "datum.p == 'F'"}],
    "encoding": {
     "x": {"field": "x", "type": "quantitative", "scale": {"domain": [1991.7, 2020.3], "nice": false, "zero": false}, "axis": {"values": [1995,2000,2005,2010,2015,2020], "labels": false, "title": null}},
     "y": {"field": "v", "type": "quantitative", "scale": {"domain": [0, 100], "nice": false}, "axis": {"values": [0,25,50,75,100], "labels": false, "title": null}},
     "color": {"field": "s", "type": "nominal", "sort": null, "scale": {"range": ["#0000ff", "#008000", "#8b0000"]}, "legend": {"title": null}}
    },
    "layer": [
     {"mark": {"type": "line", "strokeWidth": 2.3, "clip": true}},
     {"mark": {"type": "point", "filled": true, "size": 120, "opacity": 1, "clip": true}}
    ]},
   {"data": {"name": "notes"}, "transform": [{"filter": "datum.p == 'F'"}],
    "encoding": {"x": {"datum": 1993.72, "type": "quantitative"}, "y": {"datum": 85.5, "type": "quantitative"}},
    "layer": [
     {"mark": {"type": "text", "align": "left", "baseline": "middle", "fontSize": 23, "fontStyle": "italic", "text": "X̄ ="}},
     {"mark": {"type": "text", "align": "left", "baseline": "middle", "fontSize": 23, "fontWeight": "bold", "dx": 46}, "encoding": {"text": {"field": "m"}}},
     {"mark": {"type": "text", "align": "left", "baseline": "middle", "fontSize": 23, "fontStyle": "italic", "dx": 194, "text": "yr⁻¹"}}
    ]}
  ]},
 {"width": 1009, "height": 267,
  "title": {"text": "(C)", "anchor": "start", "frame": "group", "dx": -98, "offset": -1, "fontSize": 33, "fontWeight": "bold"},
  "resolve": {"axis": {"y": "independent"}},
  "layer": [
   {"data": {"name": "d"}, "transform": [{"filter": "datum.p == 'C'"}],
    "encoding": {
     "x": {"field": "x", "type": "quantitative", "scale": {"domain": [1991.7, 2020.3], "nice": false, "zero": false}, "axis": {"values": [1995,2000,2005,2010,2015,2020], "labels": false, "title": null}},
     "y": {"field": "v", "type": "quantitative", "scale": {"domain": [0, 100], "nice": false}, "axis": {"values": [0,25,50,75,100], "title": "Days", "titlePadding": 14}},
     "color": {"field": "s", "type": "nominal", "sort": null, "scale": {"range": ["#0000ff", "#008000", "#8b0000"]}, "legend": {"title": null}}
    },
    "layer": [
     {"mark": {"type": "line", "strokeWidth": 2.3, "clip": true}},
     {"mark": {"type": "point", "filled": true, "size": 120, "opacity": 1, "clip": true}}
    ]},
   {"data": {"name": "notes"}, "transform": [{"filter": "datum.p == 'C'"}],
    "encoding": {
     "x": {"datum": 1993.72, "type": "quantitative"},
     "y": {"datum": 85.5, "type": "quantitative", "axis": {"orient": "left", "title": "CalCS", "labels": false, "ticks": false, "domain": false, "offset": 160, "titlePadding": 10, "titleFontSize": 28, "titleFontWeight": "bold"}}
    },
    "layer": [
     {"mark": {"type": "text", "align": "left", "baseline": "middle", "fontSize": 23, "fontStyle": "italic", "text": "X̄ ="}},
     {"mark": {"type": "text", "align": "left", "baseline": "middle", "fontSize": 23, "fontWeight": "bold", "dx": 46}, "encoding": {"text": {"field": "m"}}},
     {"mark": {"type": "text", "align": "left", "baseline": "middle", "fontSize": 23, "fontStyle": "italic", "dx": 194, "text": "yr⁻¹"}}
    ]}
  ]},
 {"width": 1009, "height": 267,
  "title": {"text": "(G)", "anchor": "start", "frame": "group", "dx": -99, "offset": -1, "fontSize": 33, "fontWeight": "bold"},
  "layer": [
   {"data": {"name": "d"}, "transform": [{"filter": "datum.p == 'G'"}],
    "encoding": {
     "x": {"field": "x", "type": "quantitative", "scale": {"domain": [1991.7, 2020.3], "nice": false, "zero": false}, "axis": {"values": [1995,2000,2005,2010,2015,2020], "labels": false, "title": null}},
     "y": {"field": "v", "type": "quantitative", "scale": {"domain": [0, 100], "nice": false}, "axis": {"values": [0,25,50,75,100], "labels": false, "title": null}},
     "color": {"field": "s", "type": "nominal", "sort": null, "scale": {"range": ["#0000ff", "#008000", "#8b0000"]}, "legend": {"title": null}}
    },
    "layer": [
     {"mark": {"type": "line", "strokeWidth": 2.3, "clip": true}},
     {"mark": {"type": "point", "filled": true, "size": 120, "opacity": 1, "clip": true}}
    ]},
   {"data": {"name": "notes"}, "transform": [{"filter": "datum.p == 'G'"}],
    "encoding": {"x": {"datum": 1993.72, "type": "quantitative"}, "y": {"datum": 85.5, "type": "quantitative"}},
    "layer": [
     {"mark": {"type": "text", "align": "left", "baseline": "middle", "fontSize": 23, "fontStyle": "italic", "text": "X̄ ="}},
     {"mark": {"type": "text", "align": "left", "baseline": "middle", "fontSize": 23, "fontWeight": "bold", "dx": 46}, "encoding": {"text": {"field": "m"}}},
     {"mark": {"type": "text", "align": "left", "baseline": "middle", "fontSize": 23, "fontStyle": "italic", "dx": 194, "text": "yr⁻¹"}}
    ]}
  ]},
 {"width": 1009, "height": 267,
  "title": {"text": "(D)", "anchor": "start", "frame": "group", "dx": -98, "offset": -1, "fontSize": 33, "fontWeight": "bold"},
  "resolve": {"axis": {"y": "independent"}},
  "layer": [
   {"data": {"name": "d"}, "transform": [{"filter": "datum.p == 'D'"}],
    "encoding": {
     "x": {"field": "x", "type": "quantitative", "scale": {"domain": [1991.7, 2020.3], "nice": false, "zero": false}, "axis": {"values": [1995,2000,2005,2010,2015,2020], "format": "d", "title": "Year", "titlePadding": 9}},
     "y": {"field": "v", "type": "quantitative", "scale": {"domain": [0, 100], "nice": false}, "axis": {"values": [0,25,50,75,100], "title": "Days", "titlePadding": 14}},
     "color": {"field": "s", "type": "nominal", "sort": null, "scale": {"range": ["#0000ff", "#008000", "#8b0000"]}, "legend": {"title": null}}
    },
    "layer": [
     {"mark": {"type": "line", "strokeWidth": 2.3, "clip": true}},
     {"mark": {"type": "point", "filled": true, "size": 120, "opacity": 1, "clip": true}}
    ]},
   {"data": {"name": "notes"}, "transform": [{"filter": "datum.p == 'D'"}],
    "encoding": {
     "x": {"datum": 1993.72, "type": "quantitative"},
     "y": {"datum": 85.5, "type": "quantitative", "axis": {"orient": "left", "title": "C-ICS", "labels": false, "ticks": false, "domain": false, "offset": 160, "titlePadding": 10, "titleFontSize": 28, "titleFontWeight": "bold"}}
    },
    "layer": [
     {"mark": {"type": "text", "align": "left", "baseline": "middle", "fontSize": 23, "fontStyle": "italic", "text": "X̄ ="}},
     {"mark": {"type": "text", "align": "left", "baseline": "middle", "fontSize": 23, "fontWeight": "bold", "dx": 46}, "encoding": {"text": {"field": "m"}}},
     {"mark": {"type": "text", "align": "left", "baseline": "middle", "fontSize": 23, "fontStyle": "italic", "dx": 194, "text": "yr⁻¹"}}
    ]}
  ]},
 {"width": 1009, "height": 267,
  "title": {"text": "(H)", "anchor": "start", "frame": "group", "dx": -99, "offset": -1, "fontSize": 33, "fontWeight": "bold"},
  "layer": [
   {"data": {"name": "d"}, "transform": [{"filter": "datum.p == 'H'"}],
    "encoding": {
     "x": {"field": "x", "type": "quantitative", "scale": {"domain": [1991.7, 2020.3], "nice": false, "zero": false}, "axis": {"values": [1995,2000,2005,2010,2015,2020], "format": "d", "title": "Year", "titlePadding": 9}},
     "y": {"field": "v", "type": "quantitative", "scale": {"domain": [0, 100], "nice": false}, "axis": {"values": [0,25,50,75,100], "labels": false, "title": null}},
     "color": {"field": "s", "type": "nominal", "sort": null, "scale": {"range": ["#0000ff", "#008000", "#8b0000"]}, "legend": {"title": null}}
    },
    "layer": [
     {"mark": {"type": "line", "strokeWidth": 2.3, "clip": true}},
     {"mark": {"type": "point", "filled": true, "size": 120, "opacity": 1, "clip": true}}
    ]},
   {"data": {"name": "notes"}, "transform": [{"filter": "datum.p == 'H'"}],
    "encoding": {"x": {"datum": 1993.72, "type": "quantitative"}, "y": {"datum": 85.5, "type": "quantitative"}},
    "layer": [
     {"mark": {"type": "text", "align": "left", "baseline": "middle", "fontSize": 23, "fontStyle": "italic", "text": "X̄ ="}},
     {"mark": {"type": "text", "align": "left", "baseline": "middle", "fontSize": 23, "fontWeight": "bold", "dx": 46}, "encoding": {"text": {"field": "m"}}},
     {"mark": {"type": "text", "align": "left", "baseline": "middle", "fontSize": 23, "fontStyle": "italic", "dx": 194, "text": "yr⁻¹"}}
    ]}
  ]}
]
}
